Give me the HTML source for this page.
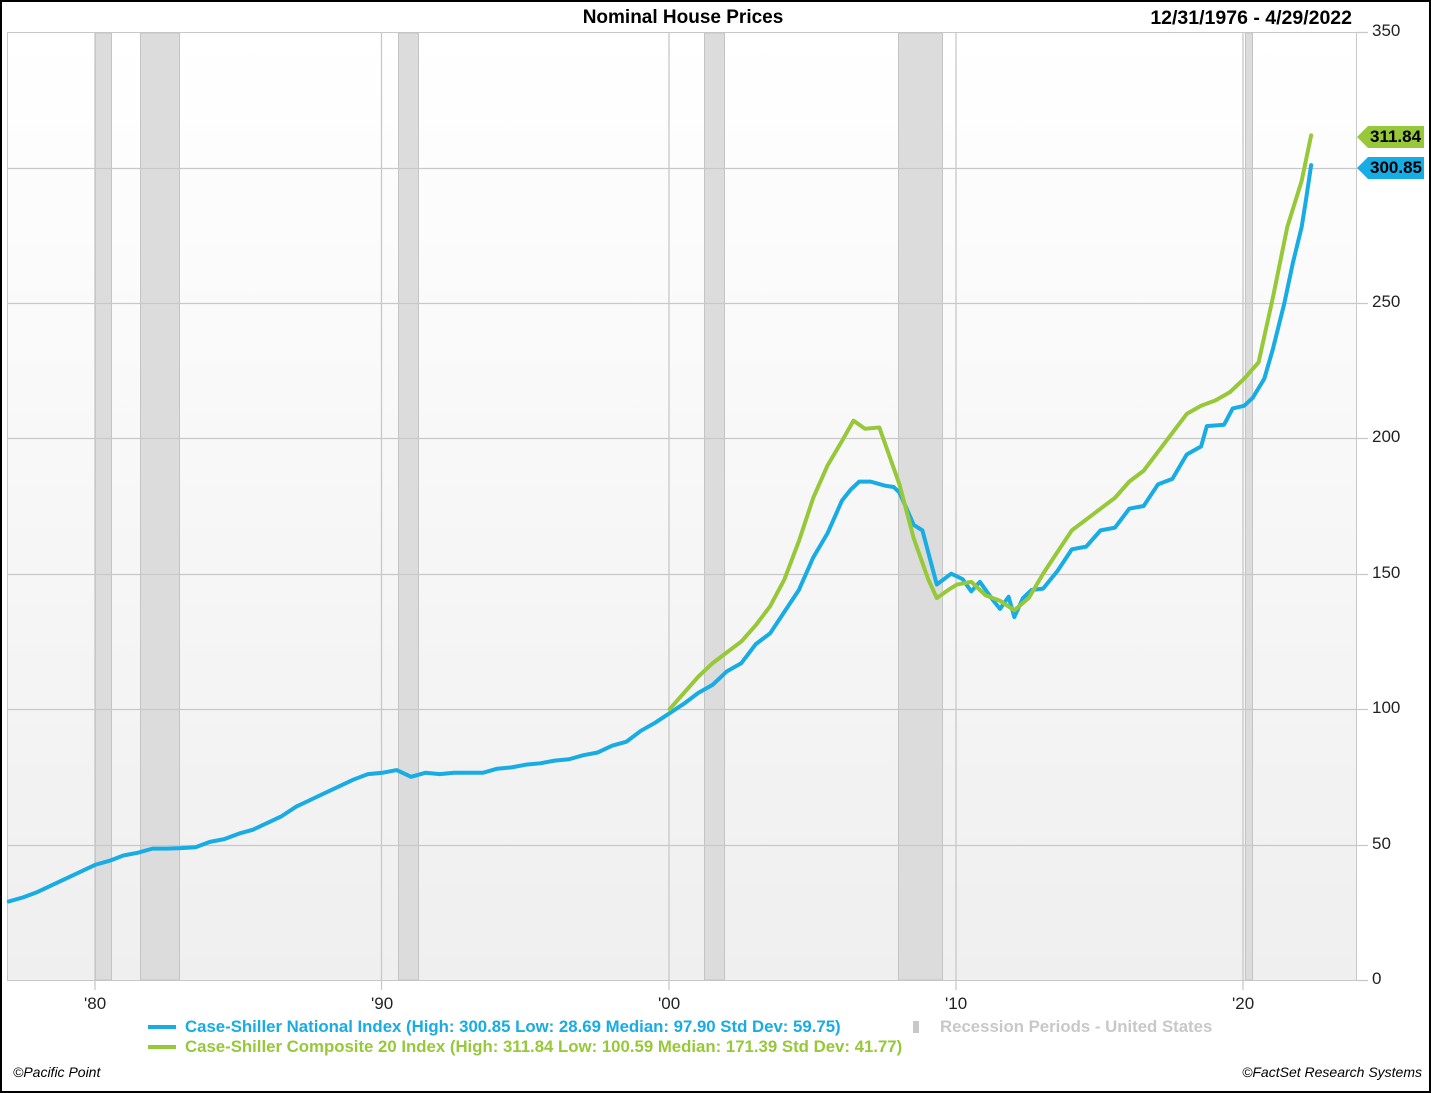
<!DOCTYPE html>
<html><head><meta charset="utf-8"><style>
html,body{margin:0;padding:0;background:#fff}
body{width:1431px;height:1093px;position:relative;overflow:hidden;font-family:"Liberation Sans",Arial,sans-serif}
.t{position:absolute;white-space:nowrap}
</style></head><body>
<svg width="1431" height="1093" style="position:absolute;left:0;top:0">
<defs><linearGradient id="bg" x1="0" y1="0" x2="0" y2="1"><stop offset="0" stop-color="#ffffff"/><stop offset="1" stop-color="#efefef"/></linearGradient></defs>
<rect x="1" y="1" width="1429" height="1091" fill="#fff" stroke="#000" stroke-width="2"/>
<rect x="7.5" y="32.5" width="1349" height="948" fill="url(#bg)" stroke="#c8c8c8"/>
<g fill="#dcdcdc" stroke="#c4c4c4" stroke-width="1">
<rect x="95.5" y="33" width="16" height="947"/>
<rect x="140.5" y="33" width="39" height="947"/>
<rect x="398.5" y="33" width="20" height="947"/>
<rect x="704.5" y="33" width="20" height="947"/>
<rect x="898.5" y="33" width="44" height="947"/>
<rect x="1245.5" y="33" width="7" height="947"/>
</g>
<g stroke="#c8c8c8" stroke-width="1.3">
<line x1="7" x2="1368" y1="168.5" y2="168.5"/>
<line x1="7" x2="1368" y1="303.5" y2="303.5"/>
<line x1="7" x2="1368" y1="438.5" y2="438.5"/>
<line x1="7" x2="1368" y1="574.5" y2="574.5"/>
<line x1="7" x2="1368" y1="709.5" y2="709.5"/>
<line x1="7" x2="1368" y1="845.5" y2="845.5"/>
<line x1="1356" x2="1368" y1="32.5" y2="32.5"/>
<line x1="1356" x2="1368" y1="980.5" y2="980.5"/>
<line x1="95" x2="95" y1="33" y2="990"/>
<line x1="381.5" x2="381.5" y1="33" y2="990"/>
<line x1="669" x2="669" y1="33" y2="990"/>
<line x1="956" x2="956" y1="33" y2="990"/>
<line x1="1243" x2="1243" y1="33" y2="990"/>
</g>
<g transform="translate(8.8,980) scale(28.73,-2.7086)" fill="none" stroke-linejoin="round" stroke-linecap="round">
<polyline vector-effect="non-scaling-stroke" stroke="#17ace3" stroke-width="4" points="0,29 0.5,30.5 1,32.5 1.5,35 2,37.5 2.5,40 3,42.5 3.5,44 4,46 4.5,47 5,48.5 5.5,48.5 6,48.7 6.5,49 7,51 7.5,52 8,54 8.5,55.5 9,58 9.5,60.5 10,64 10.5,66.5 11,69 11.5,71.5 12,74 12.5,76 13,76.5 13.5,77.5 14,75 14.5,76.5 15,76 15.5,76.5 16,76.5 16.5,76.5 17,78 17.5,78.5 18,79.5 18.5,80 19,81 19.5,81.5 20,83 20.5,84 21,86.5 21.5,88 22,92 22.5,95 23,98.5 23.5,102 24,106 24.5,109 25,114 25.5,117 26,124 26.5,128 27,136 27.5,144 28,156 28.5,165 29,177 29.3,181 29.6,184 30,184 30.5,182.5 30.8,182 31,180 31.5,168 31.8,166 32.3,146 32.8,150 33.2,148 33.5,143.5 33.8,147 34.2,141 34.5,137 34.8,141.5 35,134 35.3,141 35.6,144 36,144.5 36.5,151 37,159 37.5,160 38,166 38.5,167 39,174 39.5,175 40,183 40.5,185 41,194 41.5,197 41.7,204.5 42.3,205 42.6,211 43,212 43.3,215 43.7,222 44,233 44.4,250 44.7,265 45,278 45.15,288 45.33,300.85"/>
<polyline vector-effect="non-scaling-stroke" stroke="#97c83a" stroke-width="4" points="23,100 23.5,106 24,112 24.5,117 25,121 25.5,125 26,131 26.5,138 27,148 27.5,162 28,178 28.5,190 29,199 29.4,206.5 29.8,203.5 30.3,204 31,183 31.5,163 32,148 32.3,141 32.7,144 33,146 33.5,147 34,142 34.5,140 35,136.5 35.5,141 36,150 36.5,158 37,166 37.5,170 38,174 38.5,178 39,184 39.5,188 40,195 40.5,202 41,209 41.5,212 42,214 42.5,217 43,222 43.5,228 44,252 44.5,278 45,295 45.33,311.84"/>
</g>
<polygon points="1357,137 1368,126 1424,126 1424,148 1368,148" fill="#97c83a"/>
<polygon points="1357,168 1368,157 1424,157 1424,179 1368,179" fill="#17ace3"/>
<line x1="148" x2="176" y1="1027" y2="1027" stroke="#17ace3" stroke-width="4"/>
<line x1="148" x2="176" y1="1047" y2="1047" stroke="#97c83a" stroke-width="4"/>
<rect x="913" y="1021" width="6" height="12" fill="#c8c8c8"/>
</svg>
<div class="t" style="left:0;width:1366px;text-align:center;top:7px;font-size:19px;font-weight:bold">Nominal House Prices</div>
<div class="t" style="right:79px;top:7px;font-size:19.5px;font-weight:bold">12/31/1976 - 4/29/2022</div>
<div class="t" style="left:1372px;top:21px;font-size:17px;color:#222">350</div>
<div class="t" style="left:1372px;top:292px;font-size:17px;color:#222">250</div>
<div class="t" style="left:1372px;top:427px;font-size:17px;color:#222">200</div>
<div class="t" style="left:1372px;top:563px;font-size:17px;color:#222">150</div>
<div class="t" style="left:1372px;top:698px;font-size:17px;color:#222">100</div>
<div class="t" style="left:1372px;top:834px;font-size:17px;color:#222">50</div>
<div class="t" style="left:1372px;top:969px;font-size:17px;color:#222">0</div>
<div class="t" style="left:1370px;top:127px;font-size:17px;font-weight:bold">311.84</div>
<div class="t" style="left:1370px;top:158px;font-size:17px;font-weight:bold">300.85</div>
<div class="t" style="left:84px;top:994px;font-size:17px;color:#222">'80</div>
<div class="t" style="left:371px;top:994px;font-size:17px;color:#222">'90</div>
<div class="t" style="left:658px;top:994px;font-size:17px;color:#222">'00</div>
<div class="t" style="left:945px;top:994px;font-size:17px;color:#222">'10</div>
<div class="t" style="left:1232px;top:994px;font-size:17px;color:#222">'20</div>
<div class="t" style="left:185px;top:1017px;font-size:16.8px;font-weight:bold;color:#17ace3">Case-Shiller National Index (High: 300.85 Low: 28.69 Median: 97.90 Std Dev: 59.75)</div>
<div class="t" style="left:185px;top:1037px;font-size:16.8px;font-weight:bold;color:#97c83a">Case-Shiller Composite 20 Index (High: 311.84 Low: 100.59 Median: 171.39 Std Dev: 41.77)</div>
<div class="t" style="left:940px;top:1017px;font-size:16.8px;font-weight:bold;color:#c8c8c8">Recession Periods - United States</div>
<div class="t" style="left:13px;top:1064px;font-size:14px;font-style:italic">©Pacific Point</div>
<div class="t" style="right:9px;top:1064px;font-size:14px;font-style:italic">©FactSet Research Systems</div>
</body></html>
